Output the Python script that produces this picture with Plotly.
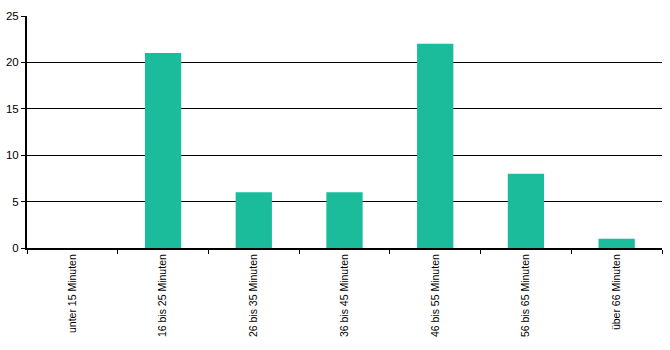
import plotly.graph_objects as go

categories = ["unter 15 Minuten", "16 bis 25 Minuten", "26 bis 35 Minuten",
              "36 bis 45 Minuten", "46 bis 55 Minuten", "56 bis 65 Minuten",
              "über 66 Minuten"]
values = [0, 21, 6, 6, 22, 8, 1]
y_ticks = [0, 5, 10, 15, 20, 25]

fig = go.Figure(go.Bar(x=categories, y=values, marker_color="#1BBC9B",
                       marker_line_width=0, width=0.4))

fig.update_layout(
    width=670, height=350,
    margin=dict(l=27, r=8, t=16, b=102),
    paper_bgcolor="white", plot_bgcolor="white",
    font=dict(family="Liberation Sans, Arial", size=11, color="black"),
    showlegend=False,
)
fig.update_xaxes(
    tickangle=-90, showline=True, linecolor="black", linewidth=2,
    ticks="outside", tickson="boundaries", ticklen=4, tickcolor="black",
    showgrid=False, range=[-0.5, 6.5], tickfont=dict(size=10.5),
    automargin=False,
)
fig.update_yaxes(
    range=[0, 25], tickvals=y_ticks, showline=True, linecolor="black", linewidth=2,
    ticks="outside", ticklen=4, tickcolor="black", tickfont=dict(size=11.5),
    showgrid=True, gridcolor="black", gridwidth=1, zeroline=False,
    automargin=False,
)
fig.write_html("out.html")
